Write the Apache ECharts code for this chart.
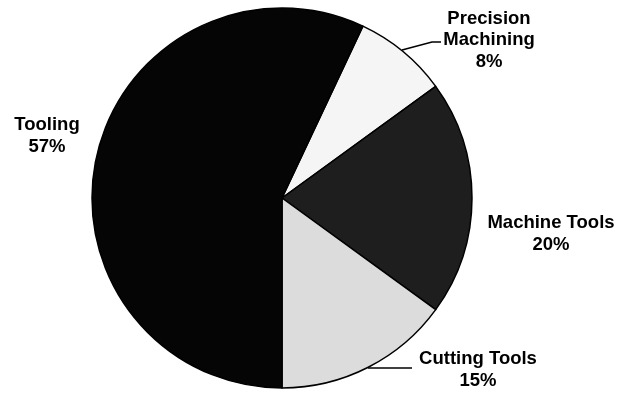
<!DOCTYPE html>
<html>
<head>
<meta charset="utf-8">
<script src="https://cdn.jsdelivr.net/npm/echarts@6/dist/echarts.min.js"></script>
<style>
html,body{margin:0;padding:0;background:#fff;}
#main{width:621px;height:394px;}
</style>
</head>
<body>
<div id="main"></div>
<script>
var categories = ['Precision\nMachining', 'Machine Tools', 'Cutting Tools', 'Tooling'];
var values = [8, 20, 15, 57];
var sliceColors = ['#f5f5f5', '#1e1e1e', '#dcdcdc', '#050505'];

// label placement (centre of each label block) and leader lines
var labelLayouts = [
  {x: 489, y: 40, line: [[402, 50], [432, 42], [441, 42]]},
  {x: 551, y: 234, line: null},
  {x: 478, y: 370, line: [[368, 368], [412, 368]]},
  {x: 47, y: 136, line: null}
];

var chart = echarts.init(document.getElementById('main'));
var data = categories.map(function (c, i) {
  return {
    name: c,
    value: values[i],
    itemStyle: {color: sliceColors[i]},
    labelLine: {show: !!labelLayouts[i].line}
  };
});
chart.setOption({
  animation: false,
  series: [{
    type: 'pie',
    center: [282, 198],
    radius: 190,
    startAngle: 64.8,
    clockwise: true,
    data: data,
    itemStyle: {borderColor: '#000', borderWidth: 1.5},
    label: {
      show: true,
      position: 'outside',
      overflow: 'none',
      edgeDistance: 0,
      formatter: function (p) { return p.name + '\n' + Math.round(p.percent) + '%'; },
      fontFamily: 'Liberation Sans, Arial, sans-serif',
      fontWeight: 'bold',
      fontSize: 18.5,
      lineHeight: 21.5,
      color: '#000',
      align: 'center'
    },
    labelLine: {lineStyle: {color: '#000', width: 1.5}, smooth: false},
    labelLayout: function (params) {
      var l = labelLayouts[params.dataIndex];
      var res = {x: l.x, y: l.y, align: 'center', verticalAlign: 'middle'};
      if (l.line) res.labelLinePoints = l.line;
      return res;
    }
  }]
});
</script>
</body>
</html>
